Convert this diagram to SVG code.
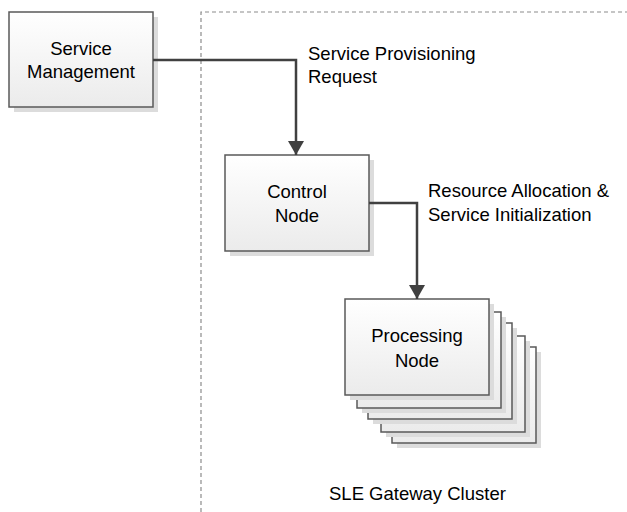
<svg xmlns="http://www.w3.org/2000/svg" width="627" height="512" viewBox="0 0 627 512">
<defs>
<linearGradient id="g" x1="0" y1="0" x2="0" y2="1">
<stop offset="0" stop-color="#ffffff"/>
<stop offset="1" stop-color="#ebebeb"/>
</linearGradient>
<marker id="arr" viewBox="0 0 14 16" refX="14" refY="8" markerWidth="14" markerHeight="16" markerUnits="userSpaceOnUse" orient="auto">
<path d="M0,0 L14,8 L0,16 Z" fill="#404040"/>
</marker>
</defs>
<style>
.box{fill:url(#g);stroke:#595959;stroke-width:1.5}
.sh{fill:#dcdcdc}
.t{font-family:"Liberation Sans",Arial,sans-serif;font-size:18.5px;fill:#000}
.c{text-anchor:middle}
.ln{fill:none;stroke:#404040;stroke-width:2.5}
</style>
<rect width="627" height="512" fill="#fff"/>
<g id="cluster">
<path d="M201,512 L201,12 L627,12" fill="none" stroke="#8c8c8c" stroke-width="1.2" stroke-dasharray="4,3"/>
<text class="t" x="329" y="500">SLE Gateway Cluster</text>
</g>
<g id="service-management">
<rect class="sh" x="14" y="17" width="144" height="95"/>
<rect class="box" x="9" y="12" width="144" height="95"/>
<text class="t c" x="81" y="55">Service</text>
<text class="t c" x="81" y="78">Management</text>
</g>
<g id="control-node">
<rect class="sh" x="230" y="160" width="144" height="96"/>
<rect class="box" x="225" y="155" width="144" height="96"/>
<text class="t c" x="297" y="198">Control</text>
<text class="t c" x="297" y="222">Node</text>
</g>
<g id="processing-node">
<rect class="sh" x="397" y="352" width="144" height="96"/>
<rect class="box" x="392" y="347" width="144" height="96"/>
<rect class="sh" x="386" y="341" width="144" height="96"/>
<rect class="box" x="381" y="336" width="144" height="96"/>
<rect class="sh" x="373" y="328" width="144" height="96"/>
<rect class="box" x="368" y="323" width="144" height="96"/>
<rect class="sh" x="362" y="317" width="144" height="96"/>
<rect class="box" x="357" y="312" width="144" height="96"/>
<rect class="sh" x="350" y="304" width="144" height="96"/>
<rect class="box" x="345" y="299" width="144" height="96"/>
<text class="t c" x="417" y="342">Processing</text>
<text class="t c" x="417" y="367">Node</text>
</g>
<g id="connectors">
<path class="ln" d="M153,60 L296,60 L296,155" marker-end="url(#arr)"/>
<path class="ln" d="M369,203 L417,203 L417,299" marker-end="url(#arr)"/>
<text class="t" x="308" y="60">Service Provisioning</text>
<text class="t" x="308" y="83">Request</text>
<text class="t" x="428" y="197">Resource Allocation &amp;</text>
<text class="t" x="428" y="221">Service Initialization</text>
</g>
</svg>
